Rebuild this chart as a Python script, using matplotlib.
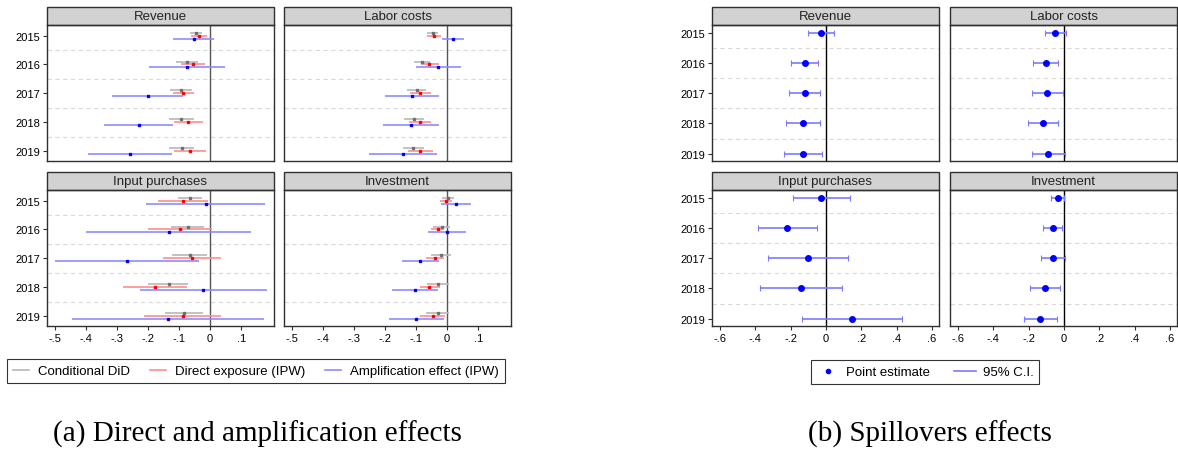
import matplotlib.pyplot as plt
from matplotlib.patches import Rectangle
from matplotlib.lines import Line2D

years = [2015, 2016, 2017, 2018, 2019]
names = ["Revenue", "Labor costs", "Input purchases", "Investment"]

# (point, low, high) per year, panel (a)
rev_did = [(-0.045, -0.065, -0.027), (-0.075, -0.111, -0.039), (-0.095, -0.128, -0.058), (-0.094, -0.134, -0.051), (-0.091, -0.131, -0.052)]
rev_dir = [(-0.035, -0.061, -0.010), (-0.056, -0.094, -0.017), (-0.086, -0.119, -0.052), (-0.070, -0.118, -0.022), (-0.065, -0.116, -0.013)]
rev_amp = [(-0.053, -0.119, 0.013), (-0.074, -0.198, 0.048), (-0.201, -0.315, -0.087), (-0.230, -0.341, -0.119), (-0.258, -0.394, -0.122)]

lab_did = [(-0.047, -0.066, -0.028), (-0.080, -0.106, -0.054), (-0.098, -0.128, -0.069), (-0.108, -0.140, -0.075), (-0.109, -0.142, -0.075)]
lab_dir = [(-0.043, -0.065, -0.019), (-0.057, -0.085, -0.027), (-0.086, -0.119, -0.053), (-0.089, -0.124, -0.053), (-0.086, -0.127, -0.045)]
lab_amp = [(0.019, -0.018, 0.056), (-0.028, -0.101, 0.045), (-0.114, -0.201, -0.027), (-0.117, -0.206, -0.027), (-0.143, -0.253, -0.032)]

inp_did = [(-0.066, -0.104, -0.027), (-0.072, -0.126, -0.019), (-0.066, -0.122, -0.010), (-0.134, -0.199, -0.070), (-0.084, -0.145, -0.024)]
inp_dir = [(-0.088, -0.169, -0.006), (-0.097, -0.201, 0.005), (-0.058, -0.152, 0.035), (-0.177, -0.282, -0.073), (-0.088, -0.212, 0.035)]
inp_amp = [(-0.014, -0.206, 0.178), (-0.133, -0.399, 0.131), (-0.268, -0.499, -0.035), (-0.023, -0.226, 0.183), (-0.135, -0.445, 0.174)]

inv_did = [(0.003, -0.015, 0.023), (-0.018, -0.046, 0.008), (-0.019, -0.052, 0.012), (-0.030, -0.065, 0.005), (-0.031, -0.069, 0.006)]
inv_dir = [(-0.003, -0.024, 0.017), (-0.029, -0.053, -0.011), (-0.040, -0.068, -0.011), (-0.057, -0.089, -0.024), (-0.046, -0.086, -0.008)]
inv_amp = [(0.029, -0.019, 0.077), (0.000, -0.062, 0.060), (-0.087, -0.146, -0.027), (-0.104, -0.178, -0.030), (-0.099, -0.187, -0.009)]

# panel (b) spillovers
sp_rev = [(-0.028, -0.102, 0.045), (-0.121, -0.198, -0.043), (-0.121, -0.209, -0.036), (-0.132, -0.226, -0.032), (-0.132, -0.240, -0.021)]
sp_lab = [(-0.049, -0.108, 0.013), (-0.104, -0.177, -0.032), (-0.094, -0.183, -0.004), (-0.119, -0.206, -0.032), (-0.091, -0.183, 0.004)]
sp_inp = [(-0.026, -0.185, 0.134), (-0.219, -0.387, -0.049), (-0.102, -0.328, 0.123), (-0.140, -0.372, 0.092), (0.145, -0.134, 0.428)]
sp_inv = [(-0.036, -0.075, 0.002), (-0.064, -0.117, -0.009), (-0.064, -0.132, 0.006), (-0.108, -0.192, -0.023), (-0.136, -0.228, -0.042)]

ticks_a = [-0.5, -0.4, -0.3, -0.2, -0.1, 0, 0.1]
ticks_b = [-0.6, -0.4, -0.2, 0, 0.2, 0.4, 0.6]

plt.rcParams['font.family'] = ['Liberation Sans', 'DejaVu Sans']

W, H = 1178, 456
fig = plt.figure(figsize=(W / 100, H / 100), dpi=100)


def lab(v):
    # stata style: .1, -.5, 0
    if abs(v) < 1e-9:
        return "0"
    s = f"{v:.1f}"
    return s.replace("0.", ".")


def make_ax(x0, y0, title, xlim, ylim, xticks, show_x, show_y):
    ax = fig.add_axes([x0 / W, 1 - (y0 + 136) / H, 227 / W, 136 / H])
    ax.set_xlim(xlim)
    ax.set_ylim(ylim)
    for s in ax.spines.values():
        s.set_color('#303030')
        s.set_linewidth(1.0)
    ax.set_xticks(xticks)
    ax.set_yticks(years)
    ax.tick_params(length=3, width=0.8, color='#303030', pad=2)
    if show_x:
        ax.set_xticklabels([lab(t) for t in xticks], fontsize=8)
    else:
        ax.tick_params(axis='x', length=0, labelbottom=False)
    if show_y:
        ax.set_yticklabels([str(y) for y in years], fontsize=8)
    else:
        ax.tick_params(axis='y', length=0, labelleft=False)
    for yy in [2015.5, 2016.5, 2017.5, 2018.5]:
        ax.axhline(yy, color='#d9d9d9', lw=0.8, ls=(0, (4, 3)), zorder=0)
    hh = 18 / 136
    ax.add_patch(Rectangle((0, 1), 1, hh, transform=ax.transAxes, clip_on=False,
                           facecolor='#d2d2d2', edgecolor='#303030', lw=1.0))
    ax.text(0.5, 1 + hh / 2, title, transform=ax.transAxes, ha='center', va='center',
            fontsize=9.5, color='#222222')
    return ax


def draw_a(ax, did, dr, amp):
    ax.axvline(0, color='#555555', lw=1.0, zorder=1)
    sets = [(did, -0.1, '#b8b8b8', '#707070'), (dr, 0.0, '#ff8c8c', '#ff0000'), (amp, 0.1, '#8c8cff', '#0000ff')]
    for data, off, lc, mc in sets:
        for y, (b, lo, hi) in zip(years, data):
            ax.plot([lo, hi], [y + off, y + off], color=lc, lw=1.2, solid_capstyle='butt', zorder=2)
            ax.plot([b], [y + off], marker='s', ms=1.8, color=mc, mec=mc, zorder=3)


def draw_b(ax, data):
    ax.axvline(0, color='black', lw=1.0, zorder=1)
    pts = [d[0] for d in data]
    lo = [d[0] - d[1] for d in data]
    hi = [d[2] - d[0] for d in data]
    ax.errorbar(pts, years, xerr=[lo, hi], fmt='none', ecolor='#7a7aff', elinewidth=1.2,
                capsize=2, capthick=0.8, zorder=2)
    ax.plot(pts, years, 'o', color='#0000ff', ms=4, zorder=3)


ylim_a = (2019.35, 2014.63)
ylim_b = (2019.24, 2014.75)
xlim_a = (-0.526, 0.206)
xlim_b = (-0.645, 0.640)

group_a = [(rev_did, rev_dir, rev_amp), (lab_did, lab_dir, lab_amp),
           (inp_did, inp_dir, inp_amp), (inv_did, inv_dir, inv_amp)]
group_b = [sp_rev, sp_lab, sp_inp, sp_inv]
xs_a = [47, 284]
xs_b = [712, 950]
ys = [26, 191]

for i in range(4):
    r, c = i // 2, i % 2
    ax = make_ax(xs_a[c], ys[r], names[i], xlim_a, ylim_a, ticks_a, r == 1, c == 0)
    draw_a(ax, *group_a[i])
    ax = make_ax(xs_b[c], ys[r], names[i], xlim_b, ylim_b, ticks_b, r == 1, c == 0)
    draw_b(ax, group_b[i])

h_a = [Line2D([], [], color='#b8b8b8', lw=1.2), Line2D([], [], color='#ff8c8c', lw=1.2),
       Line2D([], [], color='#8c8cff', lw=1.2)]
leg = fig.legend(h_a, ["Conditional DiD", "Direct exposure (IPW)", "Amplification effect (IPW)"],
                 loc='center', bbox_to_anchor=(256 / W, 1 - 372 / H), ncol=3, fontsize=9.5,
                 frameon=True, fancybox=False, edgecolor='black', handlelength=1.2,
                 handletextpad=0.7, columnspacing=1.5, borderpad=0.45)
leg.get_frame().set_linewidth(0.8)

h_b = [Line2D([], [], ls='none', marker='o', color='#0000ff', ms=3),
       Line2D([], [], color='#7a7aff', lw=1.2)]
leg2 = fig.legend(h_b, ["Point estimate", "95% C.I."], loc='center',
                  bbox_to_anchor=(925 / W, 1 - 373 / H), ncol=2, fontsize=9.5,
                  frameon=True, fancybox=False, edgecolor='black', handlelength=1.7,
                  handletextpad=0.5, columnspacing=1.8, borderpad=0.45)
leg2.get_frame().set_linewidth(0.8)

fig.text(257 / W, 1 - 434 / H, "(a) Direct and amplification effects", ha='center', va='center',
         fontsize=21, family='Liberation Serif')
fig.text(930 / W, 1 - 434 / H, "(b) Spillovers effects", ha='center', va='center',
         fontsize=21, family='Liberation Serif')

fig.savefig("out.png", dpi=100)
